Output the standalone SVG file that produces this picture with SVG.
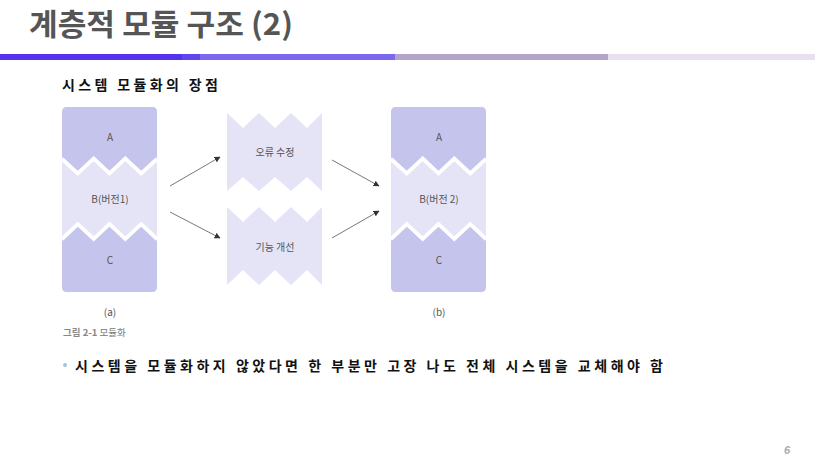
<svg xmlns="http://www.w3.org/2000/svg" width="815" height="458" viewBox="0 0 815 458">
<defs>
<style>
.title{font-family:"Noto Sans CJK KR","Noto Sans",sans-serif;font-weight:bold;font-size:30px;fill:#555555}
.sub{font-family:"Noto Sans CJK KR",sans-serif;font-weight:bold;font-size:14px;fill:#111111}
.lbl{font-family:"Noto Sans CJK KR","Liberation Sans",sans-serif;font-size:10px;fill:#555555;text-anchor:middle}
.cap{font-family:"Noto Sans CJK KR","Liberation Sans",sans-serif;font-size:9.5px;fill:#777777}
.dark{fill:#c4c4ec}
.light{fill:#e4e4f6}
.gap{fill:none;stroke:#ffffff;stroke-width:3.8;stroke-linejoin:miter}
.arr{fill:none;stroke:#555555;stroke-width:0.8;marker-end:url(#ah)}
</style>
<marker id="ah" viewBox="0 0 10 10" refX="9" refY="5" markerWidth="6" markerHeight="6" orient="auto" markerUnits="userSpaceOnUse">
<path d="M0,0 L10,5 L0,10 Z" fill="#333333"/>
</marker>
<g id="box">
<rect x="62" y="107" width="95" height="185" rx="5" class="light"/>
<path class="dark" d="M62,157 L62,112 Q62,107 67,107 L152,107 Q157,107 157,112 L157,157 L141.2,171 L125.3,156 L109.5,171 L93.7,156 L77.8,171 Z"/>
<polyline class="gap" points="62,159 77.8,173.5 93.7,158.5 109.5,173.5 125.3,158.5 141.2,173.5 157,159"/>
<path class="dark" d="M62,241 L77.8,226 L93.7,241 L109.5,226 L125.3,241 L141.2,226 L157,241 L157,287 Q157,292 152,292 L67,292 Q62,292 62,287 Z"/>
<polyline class="gap" points="62,239 77.8,224 93.7,239 109.5,224 125.3,239 141.2,224 157,239"/>
</g>
</defs>
<rect width="815" height="458" fill="#ffffff"/>
<g id="header">
<text class="title" x="29" y="35" textLength="264" lengthAdjust="spacingAndGlyphs">계층적 모듈 구조 (2)</text>
<rect x="0" y="54" width="182" height="6" fill="#5533ee"/>
<rect x="182" y="54" width="18" height="6" fill="#5e45ee"/>
<rect x="200" y="54" width="195" height="6" fill="#7b68ee"/>
<rect x="395" y="54" width="213" height="6" fill="#b4a4c8"/>
<rect x="608" y="54" width="207" height="6" fill="#e8e0ee"/>
</g>
<text class="sub" x="62" y="90" textLength="156" lengthAdjust="spacing">시스템 모듈화의 장점</text>
<g id="module-a">
<use href="#box"/>
<text class="lbl" x="110" y="141">A</text>
<text class="lbl" x="110" y="203">B(버전1)</text>
<text class="lbl" x="110" y="264">C</text>
<text class="lbl" x="110" y="316">(a)</text>
</g>
<g id="fix">
<path class="light" d="M227,113 L243,128 L259,113 L275,128 L291,113 L307,128 L322,113 L322,191 L307,177 L291,191 L275,177 L259,191 L243,177 L227,191 Z"/>
<text class="lbl" x="275" y="156">오류 수정</text>
</g>
<g id="improve">
<path class="light" d="M227,207 L243,222 L259,207 L275,222 L291,207 L307,222 L322,207 L322,285 L307,270 L291,285 L275,270 L259,285 L243,270 L227,285 Z"/>
<text class="lbl" x="275" y="251">기능 개선</text>
</g>
<g id="module-b">
<use href="#box" transform="translate(329,0)"/>
<text class="lbl" x="439" y="141">A</text>
<text class="lbl" x="439" y="203">B(버전 2)</text>
<text class="lbl" x="439" y="264">C</text>
<text class="lbl" x="439" y="316">(b)</text>
</g>
<g id="connectors">
<line class="arr" x1="170" y1="186" x2="220" y2="157"/>
<line class="arr" x1="170" y1="212" x2="220" y2="238"/>
<line class="arr" x1="332" y1="160" x2="379" y2="186"/>
<line class="arr" x1="332" y1="238" x2="379" y2="211"/>
</g>
<text class="cap" x="63" y="336"><tspan font-weight="bold" fill="#888888">그림 2-1</tspan> 모듈화</text>
<g id="bullet">
<circle cx="65" cy="365" r="2" fill="#9ec6e6"/>
<text class="sub" x="75" y="371" font-size="15" textLength="588" lengthAdjust="spacing">시스템을 모듈화하지 않았다면 한 부분만 고장 나도 전체 시스템을 교체해야 함</text>
</g>
<text x="784" y="454" font-family="Liberation Sans, sans-serif" font-size="11" font-style="italic" font-weight="bold" fill="#aaaaaa">6</text>
</svg>
